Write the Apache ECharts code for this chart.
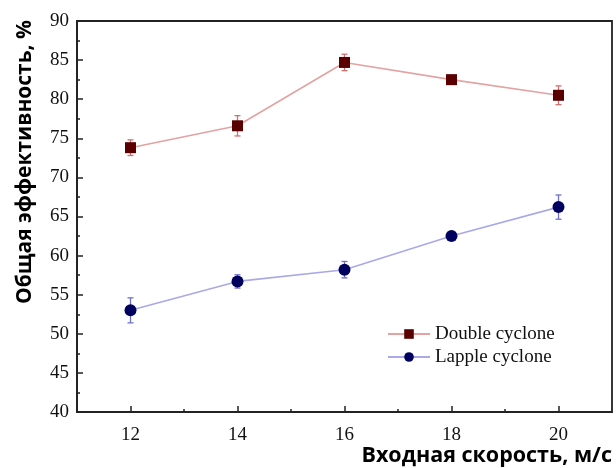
<!DOCTYPE html>
<html><head><meta charset="utf-8">
<script src="https://cdn.jsdelivr.net/npm/echarts@6/dist/echarts.min.js"></script>
<style>html,body{margin:0;padding:0;background:#fff}#c{width:616px;height:468px}</style>
</head><body><div id="c"></div>
<script>
const speeds = [12, 14, 16, 18, 20];
const doubleEff = [73.8, 76.6, 84.7, 82.5, 80.5];
const doubleErr = [1.0, 1.3, 1.05, 0.5, 1.2];
const lappleEff = [53.0, 56.7, 58.2, 62.5, 66.2];
const lappleErr = [1.6, 0.85, 1.05, 0.5, 1.55];
const xMajorTicks = [12, 14, 16, 18, 20];
const xMinorTicks = [13, 15, 17, 19];
const seriesNames = ['Double cyclone', 'Lapple cyclone'];
const yTitle = 'Общая эффективность, %';
const xTitle = 'Входная скорость, м/с';

const chart = echarts.init(document.getElementById('c'), null, {renderer: 'canvas'});
const serif = '"Liberation Serif", "Times New Roman", serif';
const sans = '"Open Sans", "Noto Sans", sans-serif';

function errSeries(vals, errs, color) {
  return {
    type: 'custom',
    xAxisIndex: 0, yAxisIndex: 0,
    silent: true,
    z: 3,
    data: speeds.map((s, i) => [s, vals[i] - errs[i], vals[i] + errs[i]]),
    renderItem: function (params, api) {
      const lo = api.coord([api.value(0), api.value(1)]);
      const hi = api.coord([api.value(0), api.value(2)]);
      const w = 3;
      const st = {stroke: color, lineWidth: 1.3};
      return {type: 'group', children: [
        {type: 'line', shape: {x1: lo[0], y1: lo[1], x2: hi[0], y2: hi[1]}, style: st},
        {type: 'line', shape: {x1: lo[0] - w, y1: lo[1], x2: lo[0] + w, y2: lo[1]}, style: st},
        {type: 'line', shape: {x1: hi[0] - w, y1: hi[1], x2: hi[0] + w, y2: hi[1]}, style: st}
      ]};
    }
  };
}

chart.setOption({
  animation: false,
  backgroundColor: '#fff',
  grid: {left: 77, right: 4, top: 21, bottom: 56, show: true, borderColor: '#222', borderWidth: 1.8, backgroundColor: 'transparent'},
  xAxis: [{
    type: 'value', min: 11, max: 21, interval: 1,
    axisLine: {lineStyle: {color: '#222', width: 1.8}},
    axisTick: {inside: true, length: 6, customValues: xMajorTicks, lineStyle: {color: '#222', width: 1.5}},
    axisLabel: {customValues: xMajorTicks, margin: 14, fontFamily: serif, fontSize: 19, color: '#111'},
    splitLine: {show: false}
  }, {
    type: 'value', min: 11, max: 21, interval: 1, position: 'bottom',
    axisLine: {show: false},
    axisTick: {inside: true, length: 3, customValues: xMinorTicks, lineStyle: {color: '#222', width: 1.5}},
    axisLabel: {show: false},
    splitLine: {show: false}
  }],
  yAxis: {
    type: 'value', min: 40, max: 90, interval: 5,
    axisLine: {show: true, lineStyle: {color: '#222', width: 1.8}},
    axisTick: {show: true, inside: true, length: 6, lineStyle: {color: '#222', width: 1.5}},
    minorTick: {show: true, splitNumber: 2, length: 3, lineStyle: {color: '#222', width: 1.5}},
    axisLabel: {margin: 8, fontFamily: serif, fontSize: 19, color: '#111'},
    splitLine: {show: false}
  },
  legend: {
    orient: 'vertical', left: 382, top: 319, itemWidth: 42, itemHeight: 12, itemGap: 3,
    textStyle: {fontFamily: serif, fontSize: 19, lineHeight: 20, color: '#111'},
    data: seriesNames
  },
  graphic: [
    {type: 'text', x: 612, y: 456, style: {text: xTitle, font: 'bold 21.5px ' + sans, fill: '#000', textAlign: 'right', textVerticalAlign: 'middle'}},
    {type: 'text', x: 25, y: 162, rotation: Math.PI / 2, style: {text: yTitle, font: 'bold 21px ' + sans, fill: '#000', textAlign: 'center', textVerticalAlign: 'middle'}}
  ],
  series: [
    errSeries(doubleEff, doubleErr, '#d07070'),
    errSeries(lappleEff, lappleErr, '#7070d0'),
    {
      name: seriesNames[0], type: 'line', z: 4,
      data: speeds.map((s, i) => [s, doubleEff[i]]),
      symbol: 'rect', symbolSize: 11,
      itemStyle: {color: '#5a0000'},
      lineStyle: {color: '#e3a3a3', width: 1.6}
    },
    {
      name: seriesNames[1], type: 'line', z: 4,
      data: speeds.map((s, i) => [s, lappleEff[i]]),
      symbol: 'circle', symbolSize: 12,
      itemStyle: {color: '#00005e'},
      lineStyle: {color: '#a9a9e6', width: 1.6}
    }
  ]
});
</script></body></html>
